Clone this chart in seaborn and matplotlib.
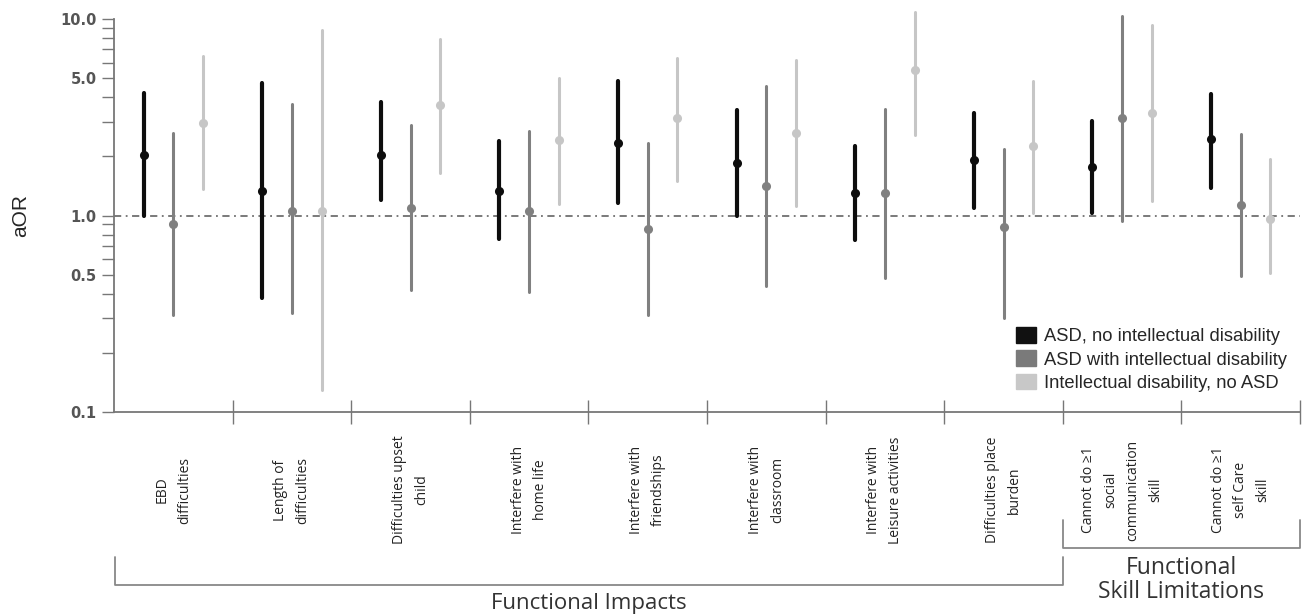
import numpy as np
import pandas as pd
import matplotlib
matplotlib.use('Agg')
import matplotlib.pyplot as plt
import matplotlib.transforms as mtransforms
from matplotlib.patches import Patch
from matplotlib.ticker import FixedLocator, FixedFormatter, NullFormatter
import seaborn as sns

sns.set_style('white')

# --- data ---
categories = ['EBD\ndifficulties', 'Length of\ndifficulties', 'Difficulties upset\nchild',
              'Interfere with\nhome life', 'Interfere with\nfriendships', 'Interfere with\nclassroom',
              'Interfere with\nLeisure activities', 'Difficulties place\nburden',
              'Cannot do \u22651\nsocial\ncommunication\nskill', 'Cannot do \u22651\nself Care\nskill']

groups = ['ASD, no intellectual disability', 'ASD with intellectual disability',
          'Intellectual disability, no ASD']

asd_no_id_or = [2.03, 1.33, 2.03, 1.34, 2.34, 1.85, 1.30, 1.92, 1.76, 2.44]
asd_no_id_lo = [1.00, 0.38, 1.20, 0.76, 1.16, 1.00, 0.75, 1.09, 1.03, 1.38]
asd_no_id_hi = [4.19, 4.73, 3.77, 2.40, 4.85, 3.45, 2.26, 3.32, 3.03, 4.13]

asd_id_or = [0.90, 1.06, 1.09, 1.05, 0.85, 1.42, 1.30, 0.87, 3.14, 1.13]
asd_id_lo = [0.31, 0.32, 0.42, 0.41, 0.31, 0.44, 0.48, 0.30, 0.94, 0.49]
asd_id_hi = [2.64, 3.69, 2.88, 2.69, 2.33, 4.55, 3.49, 2.17, 10.4, 2.59]

id_no_asd_or = [2.97, 1.06, 3.63, 2.42, 3.15, 2.64, 5.53, 2.25, 3.34, 0.96]
id_no_asd_lo = [1.36, 0.129, 1.64, 1.14, 1.50, 1.12, 2.56, 1.03, 1.18, 0.51]
id_no_asd_hi = [6.52, 8.77, 7.93, 5.00, 6.32, 6.20, 10.8, 4.83, 9.27, 1.95]

colors = ['#0d0d0d', '#808080', '#c6c6c6']
line_widths = [3.0, 2.2, 2.2]

# long table: lower bound, estimate, upper bound per cell
# median of the three = estimate, min/max = interval
rows = []
series = [(asd_no_id_lo, asd_no_id_or, asd_no_id_hi),
          (asd_id_lo, asd_id_or, asd_id_hi),
          (id_no_asd_lo, id_no_asd_or, id_no_asd_hi)]
for g, (lo, est, hi) in zip(groups, series):
    for i, cat in enumerate(categories):
        for v in (lo[i], est[i], hi[i]):
            rows.append({'category': cat, 'group': g, 'aOR': v})
df = pd.DataFrame(rows)

fig = plt.figure(figsize=(13.11, 6.16), dpi=100)
ax = fig.add_axes([114 / 1311, 1 - 412 / 616, (1300 - 114) / 1311, (412 - 19) / 616])
ax.set_yscale('log')

sns.pointplot(data=df, x='category', y='aOR', hue='group', order=categories, hue_order=groups,
              estimator='median', errorbar=lambda v: (v.min(), v.max()),
              palette=colors, dodge=0.5, linestyle='none', markers='o', markersize=4.5,
              err_kws={'linewidth': 2.5}, legend=False, ax=ax)

# thicker black intervals, thinner grey ones
for line in ax.lines:
    line.set_clip_on(False)
    c = matplotlib.colors.to_hex(line.get_color())
    for col, lw in zip(colors, line_widths):
        if c == col and line.get_linestyle() != 'None':
            line.set_linewidth(lw)

ax.axhline(1.0, color='#707070', lw=1.3, dashes=(4, 2.5, 1, 2.5), zorder=0)

ax.set_ylim(0.1, 10)
ax.set_xlim(-0.5, 9.5)
ax.yaxis.set_major_locator(FixedLocator([0.1, 0.5, 1.0, 5.0, 10.0]))
ax.yaxis.set_major_formatter(FixedFormatter(['0.1', '0.5', '1.0', '5.0', '10.0']))
ax.yaxis.set_minor_locator(FixedLocator([0.2, 0.3, 0.4, 0.6, 0.7, 0.8, 0.9, 2, 3, 4, 6, 7, 8, 9]))
ax.yaxis.set_minor_formatter(NullFormatter())
ax.tick_params(axis='y', which='both', direction='out', length=8.5, width=1, color='#777777',
               labelsize=10.5, labelcolor='#555555', pad=4, left=True)
for lab in ax.get_yticklabels():
    lab.set_fontweight('bold')

ax.set_xticks(np.arange(0.5, 10, 1))
ax.set_xticklabels([])
ax.tick_params(axis='x', direction='inout', length=17, width=1, color='#777777', bottom=True)
ax.set_xlabel('')
ax.set_ylabel('aOR', fontsize=15, family='Liberation Sans', labelpad=22)

sns.despine(ax=ax)
for s in ['left', 'bottom']:
    ax.spines[s].set_color('#777777')
    ax.spines[s].set_linewidth(1.3)

# category labels below the axis
trans = mtransforms.blended_transform_factory(ax.transData, fig.transFigure)
for i, cat in enumerate(categories):
    ax.text(i, 1 - 490 / 616, cat, rotation=90, ha='center', va='center', multialignment='center',
            fontsize=10, family=['Open Sans', 'DejaVu Sans'], color='#222222', linespacing=1.65,
            transform=trans)

# group brackets
br = dict(color='#888888', lw=1.3, transform=trans, clip_on=False)
y1, y0 = 1 - 585 / 616, 1 - 557 / 616
ax.plot([-0.49, -0.49, 7.5, 7.5], [y0, y1, y1, y0], **br)
y1, y0 = 1 - 548 / 616, 1 - 520 / 616
ax.plot([7.5, 7.5, 9.5, 9.5], [y0, y1, y1, y0], **br)
ax.text(3.5, 1 - 603 / 616, 'Functional Impacts', ha='center', va='center', fontsize=16,
        family='Open Sans', color='#333333', transform=trans)
ax.text(8.5, 1 - 580 / 616, 'Functional\nSkill Limitations', ha='center', va='center', fontsize=16.5,
        family='Open Sans', color='#333333', linespacing=1.0, transform=trans)

handles = [Patch(facecolor=c, edgecolor=c) for c in ['#111111', '#7a7a7a', '#c8c8c8']]
ax.legend(handles, groups, loc='upper left', bbox_to_anchor=(1016 / 1311, 1 - 327 / 616),
          bbox_transform=fig.transFigure, frameon=False,
          prop={'family': 'Liberation Sans', 'size': 13.2}, handlelength=1.1, handleheight=0.95,
          handletextpad=0.45, labelspacing=0.28, borderpad=0, borderaxespad=0)

fig.savefig('out.png', dpi=100)
